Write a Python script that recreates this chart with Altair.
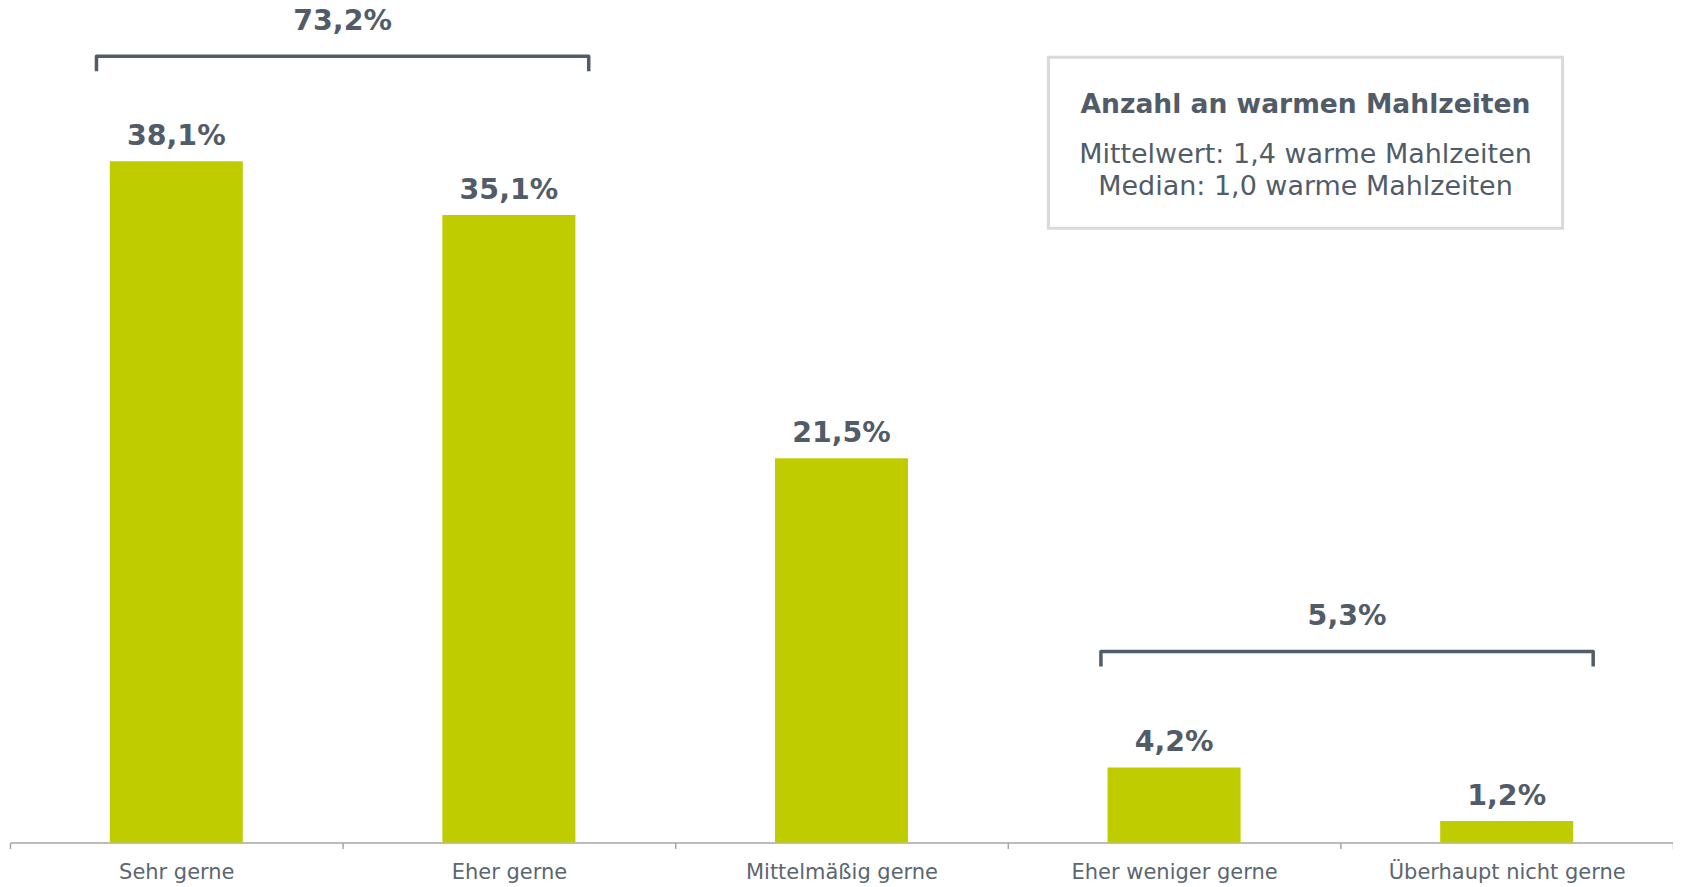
import altair as alt
import pandas as pd

# ---- data ----
categories = ["Sehr gerne", "Eher gerne", "Mittelmäßig gerne", "Eher weniger gerne", "Überhaupt nicht gerne"]
values = [38.1, 35.1, 21.5, 4.2, 1.2]
value_labels = ["38,1%", "35,1%", "21,5%", "4,2%", "1,2%"]

bracket_labels = ["73,2%", "5,3%"]
bracket_start = [0.26, 3.28]   # in category-band units
bracket_end = [1.74, 4.76]
bracket_level = [43.98, 10.68]  # height of bracket (value units)

box_title = "Anzahl an warmen Mahlzeiten"
box_lines = ["Mittelwert: 1,4 warme Mahlzeiten", "Median: 1,0 warme Mahlzeiten"]

# ---- styles ----
BAR = "#bfcd00"
DARK = "#515c68"
GRAY = "#5b6670"
FONT = "DejaVu Sans"
PX_PER_UNIT = 17.9
PLOT_H = 832
YMAX = PLOT_H / PX_PER_UNIT
N = len(categories)

yscale = alt.Scale(domain=[0, YMAX], nice=False, zero=True)
xq = alt.Scale(domain=[0, N], nice=False, zero=False)
xband = alt.Scale(paddingInner=0, paddingOuter=0)

bars_df = pd.DataFrame({"cat": categories, "val": values, "lab": value_labels})

bar_base = alt.Chart(bars_df).encode(
    x=alt.X("cat:N", sort=categories, scale=xband,
            axis=alt.Axis(title=None, labelAngle=0, tickBand="extent",
                          domainColor="#a6a6a6", tickColor="#a6a6a6",
                          domainWidth=1.5, tickWidth=1.5, tickSize=6,
                          labelFont=FONT, labelFontSize=21, labelColor=GRAY,
                          labelPadding=13, labelLimit=0)),
    y=alt.Y("val:Q", scale=yscale, axis=None),
)
bars = bar_base.mark_bar(color=BAR, width=alt.RelativeBandSize(0.4))
bar_text = bar_base.mark_text(font=FONT, fontSize=28.5, fontWeight="bold", color=DARK,
                              baseline="alphabetic", dy=-16).encode(text="lab:N")
bar_layer = alt.layer(bars, bar_text)

# brackets
pts = []
for g, (x0, x1, lvl) in enumerate(zip(bracket_start, bracket_end, bracket_level)):
    leg = lvl - 0.84
    for k, (xx, yy) in enumerate([(x0, leg), (x0, lvl), (x1, lvl), (x1, leg)]):
        pts.append({"g": g, "o": k, "xq": xx, "yq": yy})
br_df = pd.DataFrame(pts)
brackets = alt.Chart(br_df).mark_line(color=DARK, strokeWidth=3.5, strokeJoin="round").encode(
    x=alt.X("xq:Q", scale=xq, axis=None),
    y=alt.Y("yq:Q", scale=yscale, axis=None),
    detail="g:N", order="o:Q")

bl_df = pd.DataFrame({
    "xq": [(a + b) / 2 for a, b in zip(bracket_start, bracket_end)],
    "yq": [lvl + 1.47 for lvl in bracket_level],
    "lab": bracket_labels})
bracket_text = alt.Chart(bl_df).mark_text(font=FONT, fontSize=28.5, fontWeight="bold", color=DARK,
                                          baseline="alphabetic").encode(
    x=alt.X("xq:Q", scale=xq, axis=None),
    y=alt.Y("yq:Q", scale=yscale, axis=None),
    text="lab:N")

# info box
box_df = pd.DataFrame({"x0": [3.122], "x1": [4.668], "y0": [34.36], "y1": [43.92]})
box = alt.Chart(box_df).mark_rect(fill="white", stroke="#d9d9d9", strokeWidth=3).encode(
    x=alt.X("x0:Q", scale=xq, axis=None), x2="x1:Q",
    y=alt.Y("y0:Q", scale=yscale, axis=None), y2="y1:Q")

bt_df = pd.DataFrame({"xq": [3.895], "yq": [40.81], "t": [box_title]})
box_t = alt.Chart(bt_df).mark_text(font=FONT, fontSize=26.6, fontWeight="bold", color=DARK,
                                   baseline="alphabetic").encode(
    x=alt.X("xq:Q", scale=xq, axis=None),
    y=alt.Y("yq:Q", scale=yscale, axis=None), text="t:N")

bl2_df = pd.DataFrame({"xq": [3.895, 3.895], "yq": [37.99, 36.2], "t": box_lines})
box_l = alt.Chart(bl2_df).mark_text(font=FONT, fontSize=27, color=DARK,
                                    baseline="alphabetic").encode(
    x=alt.X("xq:Q", scale=xq, axis=None),
    y=alt.Y("yq:Q", scale=yscale, axis=None), text="t:N")

anno_layer = alt.layer(brackets, bracket_text, box, box_t, box_l)

chart = alt.layer(bar_layer, anno_layer).resolve_scale(
    x="independent"
).properties(
    width=1665, height=PLOT_H,
    autosize=alt.AutoSizeParams(type="none"),
    padding={"left": 2, "top": 3, "right": 0, "bottom": 45},
    background="white",
).configure_view(stroke=None)

chart.save("out.html", embed_options={"renderer": "svg", "actions": False})
